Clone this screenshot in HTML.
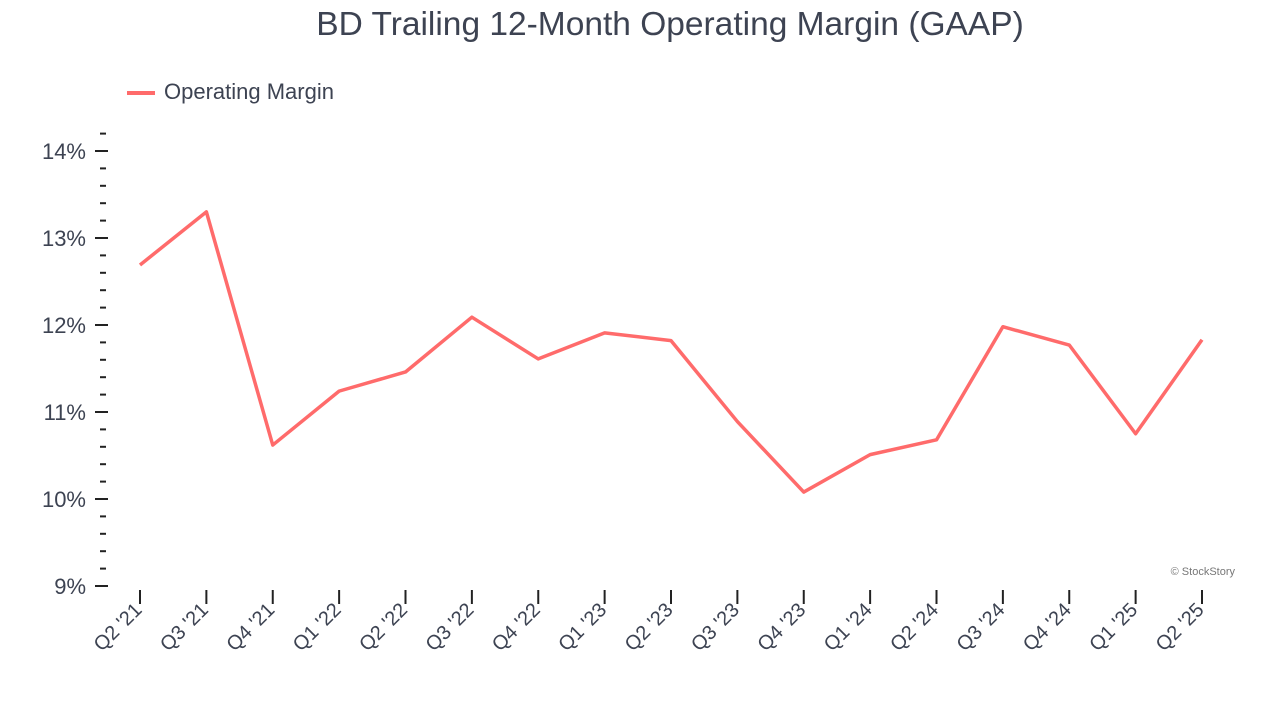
<!DOCTYPE html>
<html><head><meta charset="utf-8">
<style>
html,body{margin:0;padding:0;background:#fff;}
body{width:1280px;height:720px;overflow:hidden;font-family:"Liberation Sans",Arial,sans-serif;}
</style></head>
<body>
<svg id="chart" width="1280" height="720" xmlns="http://www.w3.org/2000/svg">
<text x="670" y="35" text-anchor="middle" font-size="33.5" fill="#3d4352">BD Trailing 12-Month Operating Margin (GAAP)</text>
<g>
<line x1="127" y1="93" x2="155" y2="93" stroke="#ff6b6b" stroke-width="4"/>
<text x="164" y="99" font-size="22" fill="#3d4352">Operating Margin</text>
</g>
<text x="1235" y="575" text-anchor="end" font-size="11" fill="#777">© StockStory</text>
<g id="axes"></g>
<path id="line" fill="none" stroke="#ff6b6b" stroke-width="3.5" stroke-linejoin="round"/>
</svg>
<script>
const categories=["Q2 '21","Q3 '21","Q4 '21","Q1 '22","Q2 '22","Q3 '22","Q4 '22","Q1 '23","Q2 '23","Q3 '23","Q4 '23","Q1 '24","Q2 '24","Q3 '24","Q4 '24","Q1 '25","Q2 '25"];
const marginValues=[12.69,13.30,10.62,11.24,11.46,12.09,11.61,11.91,11.82,10.89,10.08,10.51,10.68,11.98,11.77,10.75,11.83];
const yTickValues=[9,10,11,12,13,14];
const yTickLabels=["9%","10%","11%","12%","13%","14%"];
const NS="http://www.w3.org/2000/svg";
function x(i){return 140+i*(1202-140)/(categories.length-1);}
function y(v){return 586-(v-9)*87;}
const axes=document.getElementById('axes');
function mk(tag,attrs){const e=document.createElementNS(NS,tag);for(const k in attrs)e.setAttribute(k,attrs[k]);return e;}
for(let k=0;k<=26;k++){
  const v=9+k*0.2;
  const major=k%5===0;
  const t=mk('line',{x1:major?95:100,x2:major?108:106,y1:y(v),y2:y(v),stroke:'#222','stroke-width':2});
  
  
  axes.appendChild(t);
}
yTickValues.forEach((v,i)=>{
  const t=mk('text',{x:86,y:y(v)+8,'text-anchor':'end','font-size':22,fill:'#3d4352'});
  t.textContent=yTickLabels[i];
  
  
  axes.appendChild(t);
});
categories.forEach((c,i)=>{
  const t=mk('line',{x1:x(i),x2:x(i),y1:590,y2:604,stroke:'#222','stroke-width':2});
  
  
  axes.appendChild(t);
  const lx=x(i)+3, ly=611;
  const l=mk('text',{x:lx,y:ly,'text-anchor':'end','font-size':20,fill:'#3d4352',transform:`rotate(-45 ${lx} ${ly})`});
  l.textContent=c;
  
  
  axes.appendChild(l);
});
document.getElementById('line').setAttribute('d',marginValues.map((v,i)=>(i?'L':'M')+x(i)+' '+y(v)).join(' '));
</script>
</body></html>
